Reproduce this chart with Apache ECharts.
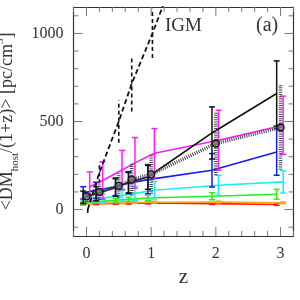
<!DOCTYPE html>
<html><head><meta charset="utf-8">
<script src="https://cdn.jsdelivr.net/npm/echarts@6/dist/echarts.min.js"></script>
<style>html,body{margin:0;padding:0;background:#fff}#c{width:300px;height:300px}</style>
</head><body><div id="c"></div>
<script>
// x positions (redshift, with the small horizontal dodge seen in the figure)
const zMid   = [0, 0.2, 0.5, 0.7, 1, 2, 3];
const zLeft  = [-0.05, 0.15, 0.45, 0.65, 0.95, 1.94, 2.94];
const zRight = [0.05, 0.25, 0.55, 0.75, 1.05, 2.04, 3.04];
const zIGM   = [0.02, 0.2, 0.5, 0.7, 1.02, 2, 3];

// values and symmetric errors
const igmVal = [0, 210, 500, 715, 1000, 1950, 2900];
const igmErr = [20, 60, 120, 158, 140, 200, 250];
const blackVal = [70, 90, 125, 155, 185, 435, 659];
const blackErr = [35, 40, 50, 60, 70, 148, 185];
const hatchVal = [75, 100, 135, 170, 200, 375, 466];
const hatchErr = [30, 45, 70, 90, 110, 180, 240];
const magentaVal = [130, 165, 225, 265, 320, 394, 479];
const magentaErr = [84, 106, 111, 144, 140, 170, 165];
const blueVal = [95, 110, 130, 150, 170, 223, 327];
const blueErr = [35, 45, 50, 60, 80, 95, 132];
const cyanVal = [55, 65, 80, 92, 110, 138, 157];
const cyanErr = [20, 25, 30, 40, 50, 57, 63];
const greenVal = [40, 45, 52, 58, 66, 76, 87];
const greenErr = [8, 8, 10, 12, 15, 20, 28];
const orangeVal = [35, 37, 39, 40, 42, 43, 38];
const orangeErr = [5, 5, 5, 5, 5, 5, 5];
const redVal = [32, 33, 35, 36, 37, 34, 29];
const redErr = [5, 5, 5, 5, 5, 5, 5];

// ticks
const xMajorTicks = [0, 1, 2, 3];
const xMinorTicks = [-0.2, 0.2, 0.4, 0.6, 0.8, 1.2, 1.4, 1.6, 1.8, 2.2, 2.4, 2.6, 2.8, 3.2];
const yMajorTicks = [0, 500, 1000];
const yMinorTicks = [-100, 100, 200, 300, 400, 600, 700, 800, 900, 1100];

const FONT = 'Liberation Serif';
const TXT = '#333';
const FRAME = '#333';
const TICK = '#777';

function xAx(pos, labels) {
  return {
    type: 'value', min: -0.2, max: 3.2, position: pos,
    axisLine: {show: true, onZero: false, lineStyle: {color: FRAME, width: 1.2}},
    axisTick: {show: false},
    axisLabel: labels ? {show: true, customValues: xMajorTicks, formatter: v => String(v), fontFamily: FONT, fontSize: 16, color: TXT, margin: 10} : {show: false},
    splitLine: {show: false}
  };
}
function yAx(pos, labels) {
  return {
    type: 'value', min: -150, max: 1150, position: pos,
    axisLine: {show: true, onZero: false, lineStyle: {color: FRAME, width: 1.2}},
    axisTick: {show: false},
    axisLabel: labels ? {show: true, customValues: yMajorTicks, formatter: v => String(v), fontFamily: FONT, fontSize: 16, color: TXT, margin: 10} : {show: false},
    splitLine: {show: false}
  };
}

const xAxes = [xAx('bottom', true), xAx('top', false)];
Object.assign(xAxes[0], {name: 'z', nameLocation: 'middle', nameGap: 20,
  nameTextStyle: {fontFamily: FONT, fontSize: 21, color: TXT}});
const yAxes = [yAx('left', true), yAx('right', false)];
Object.assign(yAxes[0], {
  name: '<DM{sub|host}/(1+z)> [pc/cm{sup|3}]', nameLocation: 'middle', nameGap: 51, nameRotate: 90,
  nameTextStyle: {fontFamily: FONT, fontSize: 18, color: TXT, lineHeight: 22,
    rich: {sub: {fontFamily: FONT, fontSize: 11, color: TXT, verticalAlign: 'bottom', lineHeight: 16},
           sup: {fontFamily: FONT, fontSize: 11, color: TXT, verticalAlign: 'top', lineHeight: 26}}}
});

function tickSeries(dim, ticks, len) {
  return {type: 'custom', silent: true, clip: false, z: 20,
    data: ticks.map(t => dim === 'x' ? [t, 0] : [0, t]),
    renderItem: function (params, api) {
      const cs = params.coordSys;
      const p = api.coord([api.value(0), api.value(1)]);
      const st = {stroke: TICK, lineWidth: 1};
      if (dim === 'x') {
        const b = cs.y + cs.height, t = cs.y;
        return {type: 'group', children: [
          {type: 'line', shape: {x1: p[0], y1: b, x2: p[0], y2: b - len}, style: st},
          {type: 'line', shape: {x1: p[0], y1: t, x2: p[0], y2: t + len}, style: st}]};
      }
      const l = cs.x, r = cs.x + cs.width;
      return {type: 'group', children: [
        {type: 'line', shape: {x1: l, y1: p[1], x2: l + len, y2: p[1]}, style: st},
        {type: 'line', shape: {x1: r, y1: p[1], x2: r - len, y2: p[1]}, style: st}]};
    }};
}

function lineSeries(z, val, color, width, dash, zl) {
  return {type: 'line', data: z.map((x, i) => [x, val[i]]), symbol: 'none', clip: true,
    lineStyle: {color: color, width: width, type: dash || 'solid'}, z: zl, silent: true};
}
function errSeries(z, val, err, color, width, dash, cap, zl) {
  return {type: 'custom', clip: true, silent: true, z: zl,
    data: z.map((x, i) => [x, val[i] - err[i], val[i] + err[i]]),
    encode: {x: 0, y: [1, 2]},
    renderItem: function (params, api) {
      const x = api.value(0), lo = api.value(1), hi = api.value(2);
      const p1 = api.coord([x, lo]), p2 = api.coord([x, hi]);
      const st = {stroke: color, lineWidth: width, lineDash: dash || null, fill: null};
      const ch = [{type: 'line', shape: {x1: p1[0], y1: p1[1], x2: p2[0], y2: p2[1]}, style: st}];
      if (cap) {
        ch.push({type: 'line', shape: {x1: p1[0] - cap, y1: p1[1], x2: p1[0] + cap, y2: p1[1]}, style: {stroke: color, lineWidth: 1.5}});
        ch.push({type: 'line', shape: {x1: p2[0] - cap, y1: p2[1], x2: p2[0] + cap, y2: p2[1]}, style: {stroke: color, lineWidth: 1.5}});
      }
      return {type: 'group', children: ch};
    }};
}

const colored = [
  [zLeft, redVal, redErr, '#ff1a1a'],
  [zRight, orangeVal, orangeErr, '#ffa31a'],
  [zLeft, greenVal, greenErr, '#22ee22'],
  [zRight, cyanVal, cyanErr, '#1af0f0'],
  [zLeft, blueVal, blueErr, '#1a1aee'],
  [zRight, magentaVal, magentaErr, '#ff1aff']
];
const series = [
  tickSeries('x', xMajorTicks, 9), tickSeries('x', xMinorTicks, 5),
  tickSeries('y', yMajorTicks, 9), tickSeries('y', yMinorTicks, 5)
];
colored.forEach((c, k) => {
  series.push(errSeries(c[0], c[1], c[2], c[3], 1.5, null, 3, 2 + k));
  series.push(lineSeries(c[0], c[1], c[3], 1.6, null, 2 + k));
});
series.push(errSeries(zLeft, blackVal, blackErr, '#111', 1.5, null, 3, 10));
series.push(lineSeries(zLeft, blackVal, '#111', 1.6, null, 10));
series.push(errSeries(zMid, hatchVal, hatchErr, '#444', 3.5, [1, 1.2], 0, 11));
series.push({type: 'line', data: zMid.map((x, i) => [x, hatchVal[i]]), clip: true, silent: true, z: 12,
  symbol: 'circle', symbolSize: 7, showSymbol: true,
  itemStyle: {color: 'rgba(120,120,120,0.7)', borderColor: '#111', borderWidth: 1.3},
  lineStyle: {color: '#444', width: 3.5, type: [1, 1.2]}});
series.push(errSeries(zIGM, igmVal, igmErr, '#111', 1.6, [4, 3], 0, 13));
series.push(lineSeries(zIGM, igmVal, '#111', 1.8, [5, 3], 13));

const chart = echarts.init(document.getElementById('c'), null, {renderer: 'canvas'});
chart.setOption({
  animation: false,
  backgroundColor: '#fff',
  grid: {left: 73.5, top: 7, width: 220, height: 229, containLabel: false, outerBoundsMode: 'none'},
  xAxis: xAxes,
  yAxis: yAxes,
  series: series,
  graphic: [
    {type: 'text', left: 165, top: 17, style: {text: 'IGM', font: '19px "Liberation Serif"', fill: TXT}},
    {type: 'text', left: 256, top: 16, style: {text: '(a)', font: '20px "Liberation Serif"', fill: TXT}}
  ]
});
</script></body></html>
